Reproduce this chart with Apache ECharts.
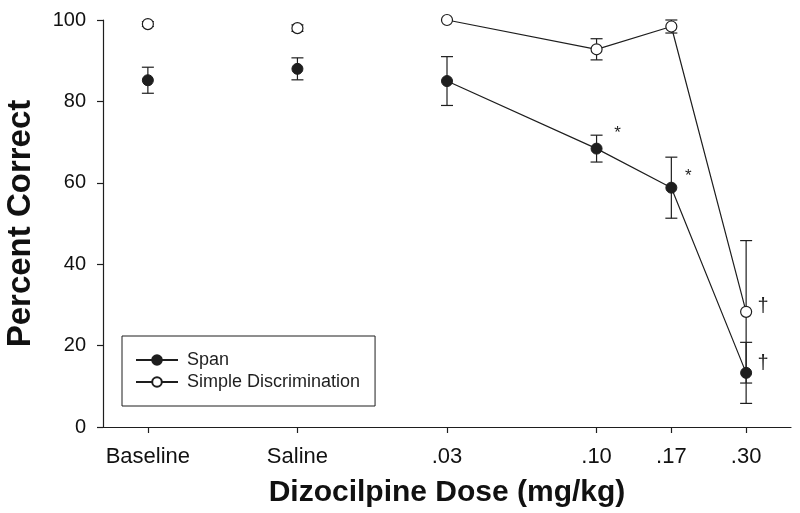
<!DOCTYPE html>
<html>
<head>
<meta charset="utf-8">
<script src="https://cdn.jsdelivr.net/npm/echarts@6/dist/echarts.min.js"></script>
<style>html,body{margin:0;padding:0;background:#fff;}#c{width:800px;height:513px;}</style>
</head>
<body>
<div id="c"></div>
<script>
// Categories on the x axis and their ordinal slots (controls, then doses)
const categories = ['Baseline', 'Saline', '.03', '.10', '.17', '.30'];
const slots = [0, 1, 2, 3, 3.5, 4];
// Span
const spanMean = [85.2, 88.0, 85.0, 68.4, 58.8, 13.3];
const spanErr  = [3.2, 2.7, 6.0, 3.3, 7.5, 7.5];
// Simple Discrimination
const simpleMean = [99.0, 98.0, 100.0, 92.8, 98.4, 28.3];
const simpleErr  = [0.6, 0.8, 0.0, 2.6, 1.6, 17.5];
// Significance annotations
const annIndex = [3, 4, 5, 5];
const annSeries = ['span', 'span', 'simple', 'span'];
const annText = ['*', '*', '\u2020', '\u2020'];
const annOffset = [[21, -15], [17, -11], [17, -5], [17, -9]];
const yTicks = [0, 20, 40, 60, 80, 100];

const FONT = "'Liberation Sans', Arial, sans-serif";
const INK = '#1e1e1e';
const controlIdx = [0, 1];
const doseIdx = [2, 3, 4, 5];

function pts(mean, idx) { return idx.map(i => [slots[i], mean[i]]); }
function errData(mean, err) { return mean.map((m, i) => [slots[i], m, err[i]]); }

function errRender(params, api) {
  const x = api.value(0), m = api.value(1), e = api.value(2);
  if (!e) return null;
  const top = api.coord([x, m + e]);
  const bot = api.coord([x, m - e]);
  const hw = 6;
  const st = { stroke: INK, lineWidth: 1.2 };
  return { type: 'group', children: [
    { type: 'line', shape: { x1: top[0], y1: top[1], x2: bot[0], y2: bot[1] }, style: st },
    { type: 'line', shape: { x1: top[0] - hw, y1: top[1], x2: top[0] + hw, y2: top[1] }, style: st },
    { type: 'line', shape: { x1: bot[0] - hw, y1: bot[1], x2: bot[0] + hw, y2: bot[1] }, style: st }
  ]};
}

const annData = annIndex.map((i, k) => [slots[i], annSeries[k] === 'span' ? spanMean[i] : simpleMean[i], k]);
function annRender(params, api) {
  const k = api.value(2);
  const p = api.coord([api.value(0), api.value(1)]);
  const isDagger = annText[k] !== '*';
  return { type: 'text', x: p[0] + annOffset[k][0], y: p[1] + annOffset[k][1],
    style: { text: annText[k], fill: INK, font: (isDagger ? '20px ' : '17px ') + FONT, textAlign: 'center', textVerticalAlign: 'middle' } };
}

const filled = { color: INK, borderColor: INK, borderWidth: 1, opacity: 1 };
const open = { color: '#ffffff', borderColor: INK, borderWidth: 1.2, opacity: 1 };

const chart = echarts.init(document.getElementById('c'), null, { renderer: 'canvas' });
chart.setOption({
  animation: false,
  backgroundColor: '#ffffff',
  textStyle: { fontFamily: FONT },
  grid: { left: 103, right: 9, top: 20, bottom: 86, containLabel: false, outerBoundsMode: 'none' },
  legend: {
    left: 122, top: 336, orient: 'vertical',
    data: ['Span', 'Simple Discrimination'],
    itemWidth: 42, itemHeight: 12, itemGap: 4,
    padding: [15, 15, 15, 13],
    borderColor: INK, borderWidth: 1,
    textStyle: { fontSize: 18, color: INK, fontFamily: FONT, padding: [0, 0, 0, 4] },
    selectedMode: false
  },
  xAxis: {
    type: 'value', min: -0.3, max: 4.3,
    name: 'Dizocilpine Dose (mg/kg)', nameLocation: 'middle', nameGap: 51,
    nameTextStyle: { fontSize: 30, fontWeight: 'bold', color: '#111', fontFamily: FONT },
    splitLine: { show: false },
    axisLine: { onZero: false, lineStyle: { color: INK, width: 1.2 } },
    axisTick: { customValues: slots, length: 6, lineStyle: { color: INK, width: 1.2 } },
    axisLabel: { customValues: slots, fontSize: 22, color: '#111', margin: 19,
      formatter: v => { const i = slots.indexOf(v); return i >= 0 ? categories[i] : ''; } }
  },
  yAxis: {
    type: 'value', min: 0, max: 100, interval: 20,
    name: 'Percent Correct', nameLocation: 'middle', nameGap: 66, nameRotate: 90,
    nameTextStyle: { fontSize: 33, fontWeight: 'bold', color: '#111', fontFamily: FONT },
    splitLine: { show: false },
    axisLine: { show: true, onZero: false, lineStyle: { color: INK, width: 1.2 } },
    axisTick: { show: true, length: 6, lineStyle: { color: INK, width: 1.2 } },
    axisLabel: { fontSize: 20, color: '#111', margin: 17, customValues: yTicks }
  },
  series: [
    { name: 'Span', type: 'line', data: pts(spanMean, doseIdx), symbol: 'circle', symbolSize: 11,
      lineStyle: { color: INK, width: 1.2 }, itemStyle: filled, z: 5 },
    { name: 'Simple Discrimination', type: 'line', data: pts(simpleMean, doseIdx), symbol: 'circle', symbolSize: 11,
      lineStyle: { color: INK, width: 1.2 }, itemStyle: open, z: 5 },
    { name: 'Span', type: 'scatter', data: pts(spanMean, controlIdx), symbol: 'circle', symbolSize: 11, itemStyle: filled, z: 5 },
    { name: 'Simple Discrimination', type: 'scatter', data: pts(simpleMean, controlIdx), symbol: 'circle', symbolSize: 11, itemStyle: open, z: 5 },
    { type: 'custom', data: errData(spanMean, spanErr), renderItem: errRender, z: 3, silent: true },
    { type: 'custom', data: errData(simpleMean, simpleErr), renderItem: errRender, z: 3, silent: true },
    { type: 'custom', data: annData, renderItem: annRender, z: 6, silent: true }
  ]
});
</script>
</body>
</html>
